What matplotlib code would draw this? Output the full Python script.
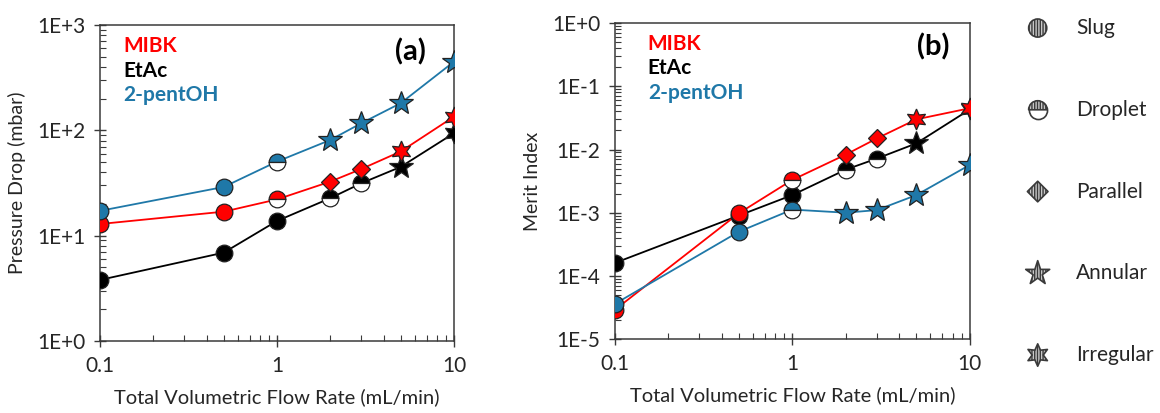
import matplotlib
matplotlib.use("Agg")
import matplotlib.pyplot as plt
import numpy as np
from matplotlib.path import Path
from matplotlib.ticker import FuncFormatter, LogLocator, NullFormatter

plt.rcParams["font.family"] = ["Lato", "DejaVu Sans"]

# flow rates (mL/min)
flow = [0.1, 0.5, 1, 2, 3, 5, 10]

# pressure drop (mbar)
dp_mibk = [12.9, 16.9, 22.1, 32.6, 43, 63, 135]
dp_etac = [3.8, 6.9, 13.8, 22.7, 31.5, 45, 94]
dp_pent = [17.2, 29, 50.5, 81, 117, 181, 449]

# merit index
mi_mibk = [2.9e-5, 9.8e-4, 3.3e-3, 8.3e-3, 1.5e-2, 3.0e-2, 4.5e-2]
mi_etac = [1.6e-4, 9.0e-4, 1.9e-3, 4.8e-3, 7.2e-3, 1.25e-2, 4.3e-2]
mi_pent = [3.6e-5, 5.0e-4, 1.12e-3, 1.0e-3, 1.1e-3, 1.9e-3, 5.7e-3]

# flow regime at each point
reg_mibk = ["slug", "slug", "droplet", "parallel", "parallel", "irregular", "irregular"]
reg_etac = ["slug", "slug", "slug", "droplet", "droplet", "annular", "irregular"]
reg_pent = ["slug", "slug", "droplet", "annular", "annular", "annular", "annular"]

regimes = ["Slug", "Droplet", "Parallel", "Annular", "Irregular"]

colors = {"MIBK": "#ff0000", "EtAc": "#000000", "2-pentOH": "#1f78a8"}
markers = {
    "slug": dict(marker="o", ms=12),
    "droplet": dict(marker="o", ms=12, fillstyle="top", markerfacecoloralt="white"),
    "parallel": dict(marker="D", ms=9.5),
    "annular": dict(marker="*", ms=18),
    "irregular": dict(marker=(6, 1, 0), ms=15),
}
edge = "#222222"
spine_c = "#3a3a3a"
txt_c = "#262626"


def log_fmt(v, pos):
    return f"1E{int(round(np.log10(v))):+d}"


def style_axes(ax, ylim):
    ax.set_xscale("log")
    ax.set_yscale("log")
    ax.set_xlim(0.1, 10)
    ax.set_ylim(*ylim)
    ax.xaxis.set_major_formatter(FuncFormatter(lambda v, p: f"{v:g}"))
    ax.yaxis.set_major_formatter(FuncFormatter(log_fmt))
    ax.yaxis.set_major_locator(LogLocator(base=10, numticks=12))
    ax.yaxis.set_minor_locator(LogLocator(base=10, subs=np.arange(2, 10), numticks=12))
    ax.xaxis.set_minor_formatter(NullFormatter())
    ax.yaxis.set_minor_formatter(NullFormatter())
    ax.tick_params(which="major", direction="inout", length=9, width=1,
                   color=spine_c, labelsize=15, labelcolor=txt_c, pad=6)
    ax.tick_params(which="minor", direction="in", length=4, width=0.8, color=spine_c)
    for s in ax.spines.values():
        s.set_color(spine_c)
        s.set_linewidth(1.1)
    ax.set_xlabel("Total Volumetric Flow Rate (mL/min)", fontsize=14.5, color=txt_c, labelpad=9)


def draw_series(ax, y, regs, name):
    c = colors[name]
    ax.plot(flow, y, color=c, lw=1.3, zorder=2)
    for xi, yi, r in zip(flow, y, regs):
        ax.plot([xi], [yi], linestyle="none", color=c, markerfacecolor=c,
                markeredgecolor=edge, markeredgewidth=0.9, zorder=3, **markers[r])


def series_labels(ax, x0, ys, tag, tag_xy):
    for name, yy in zip(["MIBK", "EtAc", "2-pentOH"], ys):
        ax.text(x0, yy, name, transform=ax.transAxes, color=colors[name],
                fontsize=15, fontweight="bold", va="center", ha="left")
    ax.text(*tag_xy, tag, transform=ax.transAxes, fontsize=21,
            fontweight="bold", va="center", ha="center")


fig = plt.figure(figsize=(11.6, 4.13), dpi=100)

ax_a = fig.add_axes([0.0862, 0.1743, 0.3052, 0.7652])
style_axes(ax_a, (1, 1000))
for name, y, regs in [("EtAc", dp_etac, reg_etac), ("MIBK", dp_mibk, reg_mibk),
                      ("2-pentOH", dp_pent, reg_pent)]:
    draw_series(ax_a, y, regs, name)
ax_a.set_ylabel("Pressure Drop (mbar)", fontsize=14, color=txt_c, labelpad=8)
series_labels(ax_a, 0.065, [0.933, 0.855, 0.778], "(a)", (0.876, 0.915))

ax_b = fig.add_axes([0.530, 0.179, 0.306, 0.765])
style_axes(ax_b, (1e-5, 1))
for name, y, regs in [("EtAc", mi_etac, reg_etac), ("MIBK", mi_mibk, reg_mibk),
                      ("2-pentOH", mi_pent, reg_pent)]:
    draw_series(ax_b, y, regs, name)
ax_b.set_ylabel("Merit Index", fontsize=14, color=txt_c, labelpad=8)
series_labels(ax_b, 0.093, [0.934, 0.857, 0.780], "(b)", (0.896, 0.924))

# regime key on the right
ax_k = fig.add_axes([0.86, 0.0, 0.14, 1.0])
ax_k.set_xlim(0, 162)
ax_k.set_ylim(4.709, -0.343)
ax_k.axis("off")
hatch = "||||||"
kface, kedge = "#c8c8c8", "#3a3a3a"
key_markers = ["o", "o", "D", "*", (6, 1, 0)]
key_sizes = [170, 170, 110, 330, 260]
for i, (lab, m, s) in enumerate(zip(regimes, key_markers, key_sizes)):
    if lab == "Droplet":
        ax_k.scatter([40], [i], marker="o", s=s, facecolor="white",
                     edgecolor=kedge, linewidth=1.2, zorder=2)
        ax_k.scatter([40], [i], marker=Path.wedge(0, 180), s=s, facecolor=kface,
                     edgecolor=kedge, linewidth=1.2, hatch=hatch, zorder=3)
    else:
        ax_k.scatter([40], [i], marker=m, s=s, facecolor=kface,
                     edgecolor=kedge, linewidth=1.2, hatch=hatch, zorder=3)
    ax_k.text(78, i, lab, fontsize=15, va="center", ha="left", color=txt_c)

fig.savefig("out.png", dpi=100)
